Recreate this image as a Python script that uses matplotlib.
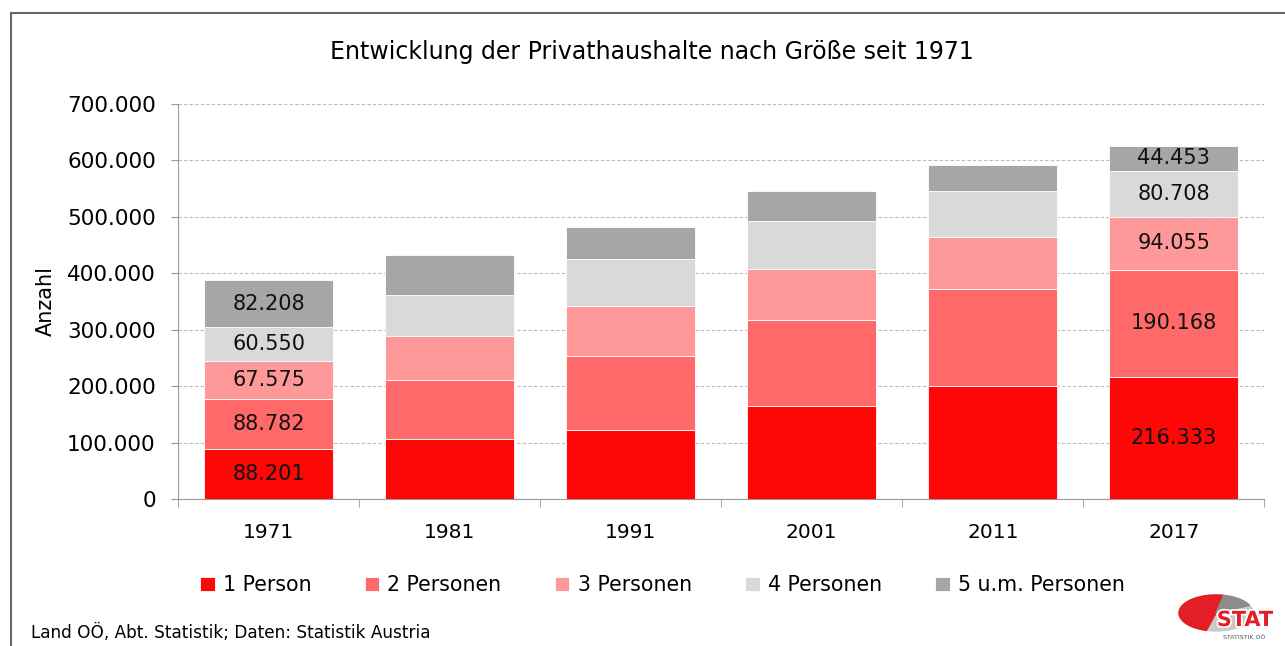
import numpy as np
import matplotlib
matplotlib.use("Agg")
from matplotlib import pyplot as plt
from matplotlib import patheffects
from matplotlib.patches import Ellipse, Polygon

plt.rcParams['font.family'] = ['DejaVu Sans']

# data
years = ['1971', '1981', '1991', '2001', '2011', '2017']
series = ['1 Person', '2 Personen', '3 Personen', '4 Personen', '5 u.m. Personen']
p1 = [88201, 106500, 121800, 164400, 199900, 216333]
p2 = [88782, 104000, 131400, 153400, 172200, 190168]
p3 = [67575, 78200, 88800, 89200, 91800, 94055]
p4 = [60550, 73300, 82800, 86500, 81600, 80708]
p5 = [82208, 70500, 56800, 51500, 46200, 44453]
labelled = ['1971', '2017']  # only these bars carry value labels

colors = ['#FF0707', '#FF6969', '#FF9999', '#D9D9D9', '#A6A6A6']

fig = plt.figure(figsize=(12.85, 6.46), dpi=100)
ax = fig.add_axes([0.1385, 0.2276, 0.8455, 0.6114])

x = np.arange(len(years))
bottom = np.zeros(len(years))
for vals, col, name in zip([p1, p2, p3, p4, p5], colors, series):
    bars = ax.bar(x, vals, 0.713, bottom=bottom, color=col, label=name,
                  edgecolor='white', linewidth=0.6, zorder=3)
    for i, b in enumerate(bars):
        if years[i] in labelled:
            ax.text(b.get_x() + b.get_width() / 2, bottom[i] + vals[i] / 2,
                    f'{vals[i]:,}'.replace(',', '.'), ha='center', va='center',
                    fontsize=15, color='#111111', zorder=4)
    bottom += np.array(vals)

ax.set_xlim(-0.5, len(years) - 0.5)
ax.set_ylim(0, 700000)
ax.set_yticks(np.arange(0, 700001, 100000))
ax.set_yticklabels(['0'] + [f'{v:,}'.replace(',', '.') for v in range(100000, 700001, 100000)],
                   fontsize=15.5)
ax.set_xticks(x)
ax.set_xticklabels(years, fontsize=14.5)
ax.set_xticks(np.arange(-0.5, len(years)), minor=True)
ax.tick_params(axis='x', which='major', length=0, pad=17)
ax.tick_params(axis='x', which='minor', length=6, color='#999999')
ax.tick_params(axis='y', length=5, color='#999999', pad=11)
ax.grid(axis='y', color='#BBBBBB', linestyle=(0, (3, 2)), linewidth=0.8, zorder=0)
for s in ['top', 'right']:
    ax.spines[s].set_visible(False)
ax.spines['left'].set_color('#999999')
ax.spines['bottom'].set_color('#999999')
ax.set_ylabel('Anzahl', fontsize=15, labelpad=8)

fig.text(652 / 1285, 1 - 52 / 646, 'Entwicklung der Privathaushalte nach Größe seit 1971',
         fontsize=17, ha='center', va='center')

ax.legend(loc='center', bbox_to_anchor=(0.446, -0.218), ncol=5, frameon=False,
          fontsize=14.8, handlelength=0.7, handleheight=0.7, handletextpad=0.4,
          columnspacing=2.6)

fig.text(0.024, 0.012, 'Land OÖ, Abt. Statistik; Daten: Statistik Austria', fontsize=12.2)

# chart frame
fig.add_artist(plt.Line2D([11 / 1285, 11 / 1285], [0, 1 - 13 / 646], color='#666666', lw=1.5))
fig.add_artist(plt.Line2D([11 / 1285, 1], [1 - 13 / 646, 1 - 13 / 646], color='#666666', lw=1.5))

# logo (pixel coordinates)
lax = fig.add_axes([1170 / 1285, 0, 115 / 1285, 66 / 646])
lax.set_xlim(1170, 1285)
lax.set_ylim(646, 580)
lax.axis('off')
cx, cy, ea, eb = 1216, 613, 37, 18
lax.add_patch(Ellipse((cx, cy), 2 * ea, 2 * eb, color='#C9C9C9'))

def sector(a0, a1):
    t = np.radians(np.linspace(a0, a1, 40))
    pts = [(cx, cy)] + [(cx + ea * np.cos(v), cy - eb * np.sin(v)) for v in t]
    return Polygon(pts, closed=True)

red = sector(78, 255)
red.set_color('#E31E24')
lax.add_patch(red)
dark = sector(25, 78)
dark.set_color('#8C8C8C')
lax.add_patch(dark)
st = lax.text(1245, 620, 'STAT', fontsize=15, fontweight='bold', color='#E31E24',
              ha='center', va='center')
st.set_path_effects([patheffects.withStroke(linewidth=2.5, foreground='white')])
lax.text(1244, 638, 'STATISTIK OÖ', fontsize=4.5, color='#555555', ha='center', va='center')

plt.savefig('out.png', dpi=100)
